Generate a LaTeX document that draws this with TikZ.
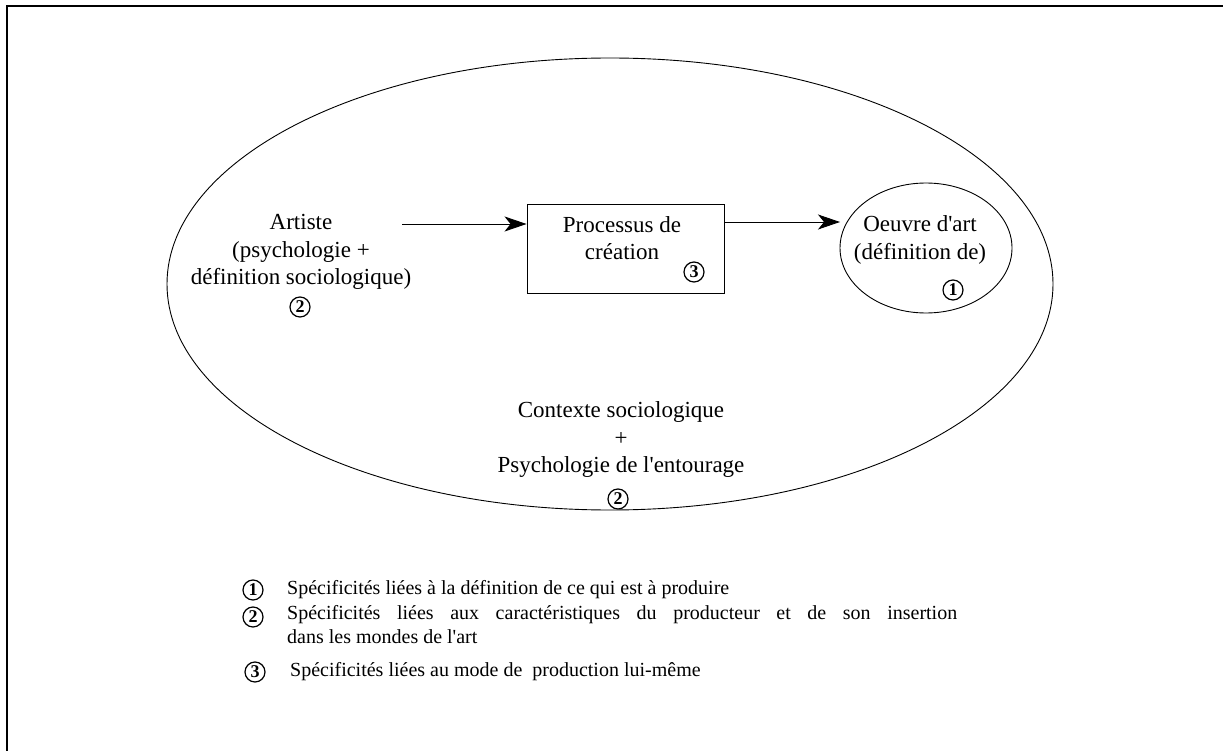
\documentclass[tikz,border=0pt]{standalone}
\usepackage{fontspec}
\setmainfont{Liberation Serif}
\usetikzlibrary{arrows.meta}
\newcommand{\ap}{\textquotesingle}
\begin{document}
\begin{tikzpicture}[x=1pt,y=-1pt,
  txt/.style={font=\fontsize{23}{27.5}\selectfont, align=center, inner sep=0pt},
  legtxt/.style={font=\fontsize{20}{24}\selectfont, align=left, anchor=west, inner sep=0pt},
  num/.style={circle, draw, line width=1.2pt, inner sep=0pt, minimum size=20pt,
    font=\fontsize{18}{18}\selectfont\bfseries},
  flow/.style={line width=0.9pt, -{Stealth[length=22pt,width=15pt,inset=6pt]}},
  thin line/.style={line width=0.9pt}]
  % page
  \useasboundingbox (0,0) rectangle (1223,751);
  \fill[white] (0,0) rectangle (1223,751);
  % frame (open on the right and bottom)
  \draw[line width=2pt] (7,760) -- (7,6) -- (1230,6);

  % surrounding context
  \draw[thin line] (610,284) ellipse [x radius=443, y radius=226];

  % artist
  \node[txt] (artiste) at (301,252) {Artiste\\(psychologie +\\définition sociologique)};
  \node[num] (n2a) at (300,307) {2};

  % creative process
  \node[draw, thin line, minimum width=197pt, minimum height=89pt] (proc) at (625.5,248.5) {};
  \node[txt] (proctxt) at (622,238) {Processus de\\création};
  \node[num] (n3a) at (694,272) {3};

  % artwork
  \draw[thin line] (926,248) ellipse [x radius=86, y radius=65];
  \coordinate (oeuvre) at (840,222);
  \node[txt] (oeuvtxt) at (920,240) {Oeuvre d\ap art\\(définition de)};
  \node[num] (n1a) at (953,290) {1};

  % flow
  \coordinate (artout) at (402,224);
  \draw[flow] (artout) -- (proc.west |- artout);
  \draw[flow] (proc.east |- oeuvre) -- (oeuvre);

  % context text
  \node[txt] (ctx) at (621,440) {Contexte sociologique\\+\\Psychologie de l\ap entourage};
  \node[num] (n2b) at (618,499) {2};

  % legend
  \node[num] (l1) at (253,590) {1};
  \node[legtxt] (t1) at (287,590) {Spécificités liées à la définition de ce qui est à produire};
  \node[num] (l2) at (253,617) {2};
  \node[legtxt, anchor=north west, text width=670pt, align=justify] (t2) at (287,605)
    {Spécificités liées aux caractéristiques du producteur et de son insertion\linebreak dans les mondes de l\ap art};
  \node[num] (l3) at (255,672) {3};
  \node[legtxt] (t3) at (290,672) {Spécificités liées au mode de\ \ production lui-même};
\end{tikzpicture}
\end{document}
